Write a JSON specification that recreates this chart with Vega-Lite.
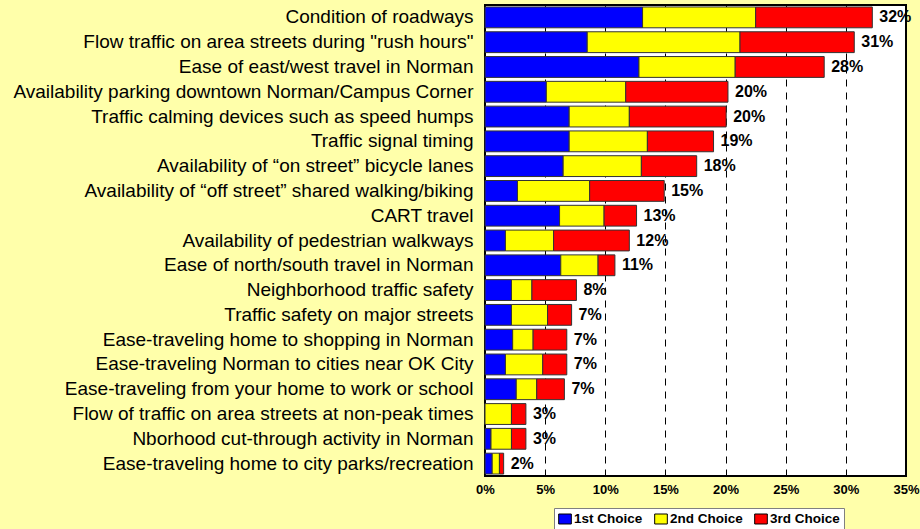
{
  "$schema": "https://vega.github.io/schema/vega-lite/v6.json",
  "width": 421,
  "height": 471,
  "autosize": {"type": "none"},
  "padding": {"left": 485, "top": 5, "right": 14, "bottom": 53},
  "background": "#ffffaa",
  "config": {
    "view": {"fill": "white", "stroke": "black", "strokeWidth": 2},
    "font": "Liberation Sans"
  },
  "data": {
    "values": [
      {"item": "Condition of roadways", "choice": "1st Choice", "value": 0.131},
      {"item": "Condition of roadways", "choice": "2nd Choice", "value": 0.094},
      {"item": "Condition of roadways", "choice": "3rd Choice", "value": 0.097},
      {"item": "Flow traffic on area streets during \"rush hours\"", "choice": "1st Choice", "value": 0.085},
      {"item": "Flow traffic on area streets during \"rush hours\"", "choice": "2nd Choice", "value": 0.127},
      {"item": "Flow traffic on area streets during \"rush hours\"", "choice": "3rd Choice", "value": 0.095},
      {"item": "Ease of east/west travel in Norman", "choice": "1st Choice", "value": 0.128},
      {"item": "Ease of east/west travel in Norman", "choice": "2nd Choice", "value": 0.080},
      {"item": "Ease of east/west travel in Norman", "choice": "3rd Choice", "value": 0.074},
      {"item": "Availability parking downtown Norman/Campus Corner", "choice": "1st Choice", "value": 0.051},
      {"item": "Availability parking downtown Norman/Campus Corner", "choice": "2nd Choice", "value": 0.066},
      {"item": "Availability parking downtown Norman/Campus Corner", "choice": "3rd Choice", "value": 0.085},
      {"item": "Traffic calming devices such as speed humps", "choice": "1st Choice", "value": 0.070},
      {"item": "Traffic calming devices such as speed humps", "choice": "2nd Choice", "value": 0.050},
      {"item": "Traffic calming devices such as speed humps", "choice": "3rd Choice", "value": 0.0805},
      {"item": "Traffic signal timing", "choice": "1st Choice", "value": 0.070},
      {"item": "Traffic signal timing", "choice": "2nd Choice", "value": 0.065},
      {"item": "Traffic signal timing", "choice": "3rd Choice", "value": 0.055},
      {"item": "Availability of “on street” bicycle lanes", "choice": "1st Choice", "value": 0.065},
      {"item": "Availability of “on street” bicycle lanes", "choice": "2nd Choice", "value": 0.065},
      {"item": "Availability of “on street” bicycle lanes", "choice": "3rd Choice", "value": 0.046},
      {"item": "Availability of “off street” shared walking/biking", "choice": "1st Choice", "value": 0.027},
      {"item": "Availability of “off street” shared walking/biking", "choice": "2nd Choice", "value": 0.060},
      {"item": "Availability of “off street” shared walking/biking", "choice": "3rd Choice", "value": 0.062},
      {"item": "CART travel", "choice": "1st Choice", "value": 0.062},
      {"item": "CART travel", "choice": "2nd Choice", "value": 0.037},
      {"item": "CART travel", "choice": "3rd Choice", "value": 0.027},
      {"item": "Availability of pedestrian walkways", "choice": "1st Choice", "value": 0.017},
      {"item": "Availability of pedestrian walkways", "choice": "2nd Choice", "value": 0.040},
      {"item": "Availability of pedestrian walkways", "choice": "3rd Choice", "value": 0.063},
      {"item": "Ease of north/south travel in Norman", "choice": "1st Choice", "value": 0.063},
      {"item": "Ease of north/south travel in Norman", "choice": "2nd Choice", "value": 0.031},
      {"item": "Ease of north/south travel in Norman", "choice": "3rd Choice", "value": 0.014},
      {"item": "Neighborhood traffic safety", "choice": "1st Choice", "value": 0.022},
      {"item": "Neighborhood traffic safety", "choice": "2nd Choice", "value": 0.017},
      {"item": "Neighborhood traffic safety", "choice": "3rd Choice", "value": 0.037},
      {"item": "Traffic safety on major streets", "choice": "1st Choice", "value": 0.022},
      {"item": "Traffic safety on major streets", "choice": "2nd Choice", "value": 0.030},
      {"item": "Traffic safety on major streets", "choice": "3rd Choice", "value": 0.020},
      {"item": "Ease-traveling home to shopping in Norman", "choice": "1st Choice", "value": 0.023},
      {"item": "Ease-traveling home to shopping in Norman", "choice": "2nd Choice", "value": 0.017},
      {"item": "Ease-traveling home to shopping in Norman", "choice": "3rd Choice", "value": 0.028},
      {"item": "Ease-traveling Norman to cities near OK City", "choice": "1st Choice", "value": 0.017},
      {"item": "Ease-traveling Norman to cities near OK City", "choice": "2nd Choice", "value": 0.031},
      {"item": "Ease-traveling Norman to cities near OK City", "choice": "3rd Choice", "value": 0.020},
      {"item": "Ease-traveling from your home to work or school", "choice": "1st Choice", "value": 0.026},
      {"item": "Ease-traveling from your home to work or school", "choice": "2nd Choice", "value": 0.017},
      {"item": "Ease-traveling from your home to work or school", "choice": "3rd Choice", "value": 0.023},
      {"item": "Flow of traffic on area streets at non-peak times", "choice": "1st Choice", "value": 0.0},
      {"item": "Flow of traffic on area streets at non-peak times", "choice": "2nd Choice", "value": 0.022},
      {"item": "Flow of traffic on area streets at non-peak times", "choice": "3rd Choice", "value": 0.012},
      {"item": "Nborhood cut-through activity in Norman", "choice": "1st Choice", "value": 0.005},
      {"item": "Nborhood cut-through activity in Norman", "choice": "2nd Choice", "value": 0.017},
      {"item": "Nborhood cut-through activity in Norman", "choice": "3rd Choice", "value": 0.012},
      {"item": "Ease-traveling home to city parks/recreation", "choice": "1st Choice", "value": 0.006},
      {"item": "Ease-traveling home to city parks/recreation", "choice": "2nd Choice", "value": 0.006},
      {"item": "Ease-traveling home to city parks/recreation", "choice": "3rd Choice", "value": 0.0035}
    ]
  },
  "encoding": {
    "y": {
      "field": "item",
      "type": "nominal",
      "sort": null,
      "scale": {"paddingInner": 0.16, "paddingOuter": 0.08},
      "axis": {
        "title": null,
        "ticks": false,
        "domain": false,
        "labelFontSize": 19,
        "labelColor": "black",
        "labelPadding": 12,
        "labelLimit": 600
      }
    }
  },
  "layer": [
    {
      "mark": {"type": "bar", "stroke": "#333333", "strokeWidth": 1},
      "encoding": {
        "x": {
          "field": "value",
          "type": "quantitative",
          "aggregate": "sum",
          "stack": "zero",
          "scale": {"domain": [0, 0.35], "nice": false},
          "axis": {
            "title": null,
            "format": ".0%",
            "values": [0, 0.05, 0.1, 0.15, 0.2, 0.25, 0.3, 0.35],
            "ticks": false,
            "domain": false,
            "labelFontSize": 13,
            "labelFontWeight": "bold",
            "labelColor": "black",
            "labelPadding": 7,
            "labelFlush": false,
            "grid": true,
            "gridColor": "black",
            "gridDash": [7, 6],
            "gridWidth": 1,
            "gridOpacity": 1
          }
        },
        "color": {
          "field": "choice",
          "type": "nominal",
          "scale": {"domain": ["1st Choice", "2nd Choice", "3rd Choice"], "range": ["#0000ff", "#ffff00", "#ff0000"]},
          "legend": {
            "title": null,
            "orient": "none",
            "direction": "horizontal",
            "legendX": 69,
            "legendY": 503,
            "symbolType": "M-1,-0.79H1V0.79H-1Z",
            "symbolSize": 160,
            "symbolStrokeColor": "black",
            "symbolStrokeWidth": 1,
            "symbolOpacity": 1,
            "labelFontSize": 13.5,
            "labelFontWeight": "bold",
            "labelColor": "black",
            "labelOffset": 2,
            "columnPadding": 9,
            "padding": 4,
            "strokeColor": "#808080",
            "fillColor": "white"
          }
        }
      }
    },
    {
      "mark": {"type": "text", "align": "left", "baseline": "middle", "dx": 7, "fontSize": 16, "fontWeight": "bold", "color": "black"},
      "encoding": {
        "x": {"field": "value", "type": "quantitative", "aggregate": "sum"},
        "text": {"field": "value", "type": "quantitative", "aggregate": "sum", "format": ".0%"}
      }
    }
  ]
}
